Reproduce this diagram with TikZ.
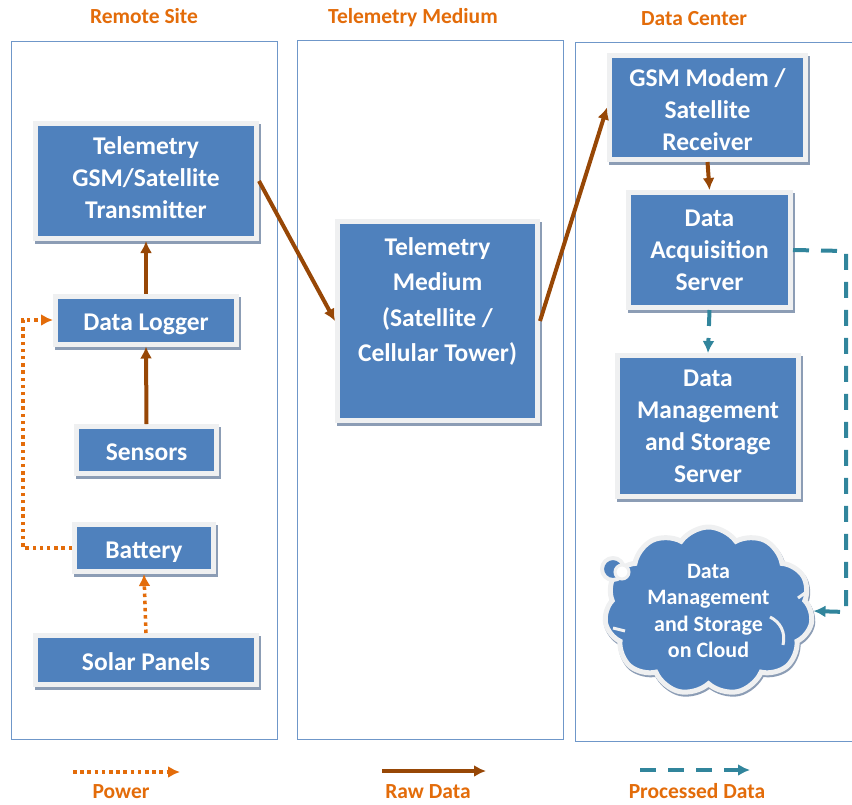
\documentclass[tikz,border=0pt]{standalone}
\usepackage{fontspec}
\setmainfont{Carlito}
\usetikzlibrary{arrows.meta,shapes.symbols,shadows}
\definecolor{boxblue}{HTML}{4F81BD}
\definecolor{rimgrey}{HTML}{EFF0F1}
\definecolor{shadegrey}{HTML}{8C9DB5}
\definecolor{panelblue}{HTML}{6F97C9}
\definecolor{headorange}{HTML}{E36C0A}
\definecolor{rawbrown}{HTML}{974706}
\definecolor{procteal}{HTML}{31859C}
\tikzset{
  panel/.style={draw=panelblue,line width=1pt},
  header/.style={text=headorange,inner sep=0pt,font=\fontsize{21.5}{24}\selectfont\bfseries},
  unit/.style={fill=boxblue,draw=rimgrey,line width=5pt,text=white,align=center,
    inner sep=0pt,font=\fontsize{25.5}{32}\selectfont\bfseries,
    drop shadow={shadow xshift=2pt,shadow yshift=-3pt,fill=shadegrey,draw=shadegrey,opacity=1}},
  single/.style={text height=20pt,text depth=0pt},
  power/.style={draw=headorange,line width=3.5pt,dash pattern=on 3.5pt off 3.7pt,
    -{Latex[length=12pt,width=12pt,fill=headorange]}},
  raw/.style={draw=rawbrown,line width=4pt,-{Latex[length=12pt,width=12pt,fill=rawbrown]}},
  processed/.style={draw=procteal,line width=4pt,dash pattern=on 16pt off 12pt,
    -{Latex[length=12pt,width=12pt,fill=procteal]}},
}
\begin{document}
\begin{tikzpicture}[x=1pt,y=-1pt]
  \useasboundingbox (0,0) rectangle (852,804);

  % Panels behind everything.
  \draw[panel] (11,41) rectangle (277,739);
  \draw[panel] (297,40) rectangle (563,739);
  \draw[panel] (852,42) -- (575,42) -- (575,741) -- (852,741);

  % Panel headings.
  \node[header] (sitehead) at (144,16) {Remote Site};
  \node[header] (mediumhead) at (413,18) {Telemetry Medium};
  \node[header] (centerhead) at (694,19) {Data Center};

  % Boxes for the left side.
  \node[unit,minimum width=221pt,minimum height=115pt] (transmitter) at (146,181) {Telemetry\\GSM/Satellite\\Transmitter\rule[-6pt]{0pt}{6pt}};
  \node[unit,single,minimum width=181pt,minimum height=48pt] (logger) at (146,320) {Data Logger};
  \node[unit,single,minimum width=140pt,minimum height=47pt] (sensors) at (146.5,450) {Sensors};
  \node[unit,single,minimum width=139pt,minimum height=47pt] (battery) at (144,548) {Battery};
  \node[unit,single,minimum width=221pt,minimum height=49pt] (solar) at (146,660) {Solar Panels};

  % Box in the middle.
  \node[unit,font=\fontsize{25.5}{35.5}\selectfont\bfseries,minimum width=200pt,minimum height=199pt] (medium) at (437.5,321) {Telemetry\\Medium\\(Satellite /\\Cellular Tower)\\[7.5pt]\mbox{}};

  % Boxes for the right side.
  \node[unit,minimum width=196pt,minimum height=104pt] (modem) at (707.5,107.5) {\rule{0pt}{23pt}GSM Modem /\\Satellite\\Receiver};
  \node[unit,minimum width=162pt,minimum height=115pt] (acquisition) at (709.5,250) {Data\\Acquisition\\Server};
  \node[unit,minimum width=181pt,minimum height=141pt] (storage) at (708,426) {Data\\Management\\and Storage\\Server};

  % Cloud with its little tail.
  \node[cloud,cloud puffs=11,cloud puff arc=110,aspect=1.25,minimum width=208pt,minimum height=168pt,
    fill=boxblue,draw=rimgrey,line width=5pt,
    text=white,align=center,inner sep=0pt,font=\fontsize{22}{26.5}\selectfont\bfseries,
    drop shadow={shadow xshift=1pt,shadow yshift=-2pt,fill=shadegrey,draw=shadegrey,opacity=1}]
    (cloudstore) at (708.5,611) {Data\\Management\\and Storage\\on Cloud};
  \draw[rimgrey,fill=boxblue,line width=4pt] (613,569) circle (11pt);
  \draw[rimgrey,fill=white,line width=3pt] (622,572) circle (7pt);
  \draw[rimgrey,line width=3pt] (770,617) .. controls (780,622) and (786,632) .. (783,645);
  \draw[rimgrey,line width=3pt] (798,598) -- (805,593);
  \draw[rimgrey,line width=3pt] (613,628) -- (625,631);

  % Raw data arrows.
  \draw[raw] (sensors.north) -- (logger.south);
  \draw[raw] (logger.north) -- (transmitter.south);
  \draw[raw] (transmitter.east) -- (medium.west);
  \draw[raw] (medium.east) -- (modem.west);
  \draw[raw] (modem.south) -- (acquisition.north);

  % Power arrows.
  \coordinate (powerlow) at (23,548);
  \coordinate (powerhigh) at (23,320);
  \draw[power] (solar.north) -- (battery.south);
  \draw[power] (battery.west) -- (powerlow) -- (powerhigh) -- (logger.west);

  % Processed data arrows.
  \coordinate (turnhigh) at (846,251);
  \coordinate (turnlow) at (846,612);
  \draw[processed] (acquisition.south) -- (storage.north);
  \draw[processed] (acquisition.east) -- (turnhigh) -- (turnlow) -- (cloudstore.east);

  % Legend along the bottom.
  \coordinate (powerfrom) at (73,772);
  \coordinate (powerto) at (180,772);
  \coordinate (rawfrom) at (382,771);
  \coordinate (rawto) at (486,771);
  \coordinate (procfrom) at (640,770);
  \coordinate (procto) at (750,770);
  \draw[power] (powerfrom) -- (powerto);
  \draw[raw] (rawfrom) -- (rawto);
  \draw[processed] (procfrom) -- (procto);
  \node[header] (powerlabel) at (121,792) {Power};
  \node[header] (rawlabel) at (428,792) {Raw Data};
  \node[header] (proclabel) at (697,791) {Processed Data};
\end{tikzpicture}
\end{document}
